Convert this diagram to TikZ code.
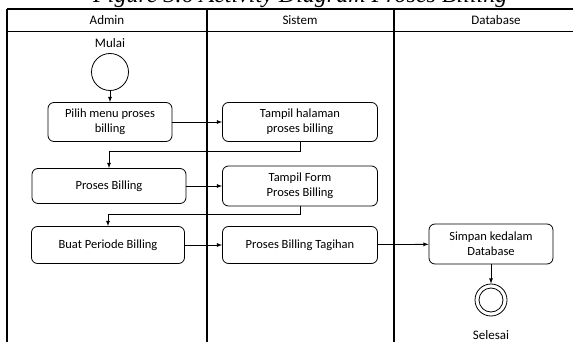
\documentclass[tikz,border=0pt]{standalone}
\usepackage{fontspec}
\setmainfont{Carlito}
\newfontfamily\titlefont{Liberation Serif}
\tikzset{
	act/.style={draw,line width=0.8pt,rounded corners=6pt,align=center,inner sep=2pt,font=\fontsize{12.5}{15}\selectfont},
	flow/.style={-latex,line width=0.8pt},
	lane/.style={line width=1.6pt}
}
\begin{document}
\begin{tikzpicture}[x=1pt,y=-1pt,font=\fontsize{13}{15}\selectfont]
	\useasboundingbox (0,0) rectangle (573,342);
	\clip (0,0) rectangle (573,342);
	\node[anchor=south west,inner sep=0pt,font=\titlefont\itshape\fontsize{24}{28}\selectfont] (title) at (93,8) {Figure 3.6 Activity Diagram Proses Billing};
	
	\draw[lane] (7,9) -- (580,9);
	\draw[lane] (7,31.5) -- (580,31.5);
	\foreach \x in {7,207,394}
	\draw[lane] (\x,9) -- (\x,350);
	\node (hadmin) at (107,20) {Admin};
	\node (hsistem) at (300,20) {Sistem};
	\node (hdb) at (496,20) {Database};
	
	\node (lmulai) at (110,43) {Mulai};
	\node[circle,draw,line width=0.8pt,minimum size=37pt] (mulai) at (110,72) {};
	\node[act,minimum width=124pt,minimum height=39pt] (pilih) at (110,122) {Pilih menu proses\\billing};
	\node[act,minimum width=155pt,minimum height=39pt] (tampil) at (300,122) {Tampil halaman\\proses billing};
	\node[act,minimum width=154pt,minimum height=35pt] (proses) at (109,186) {Proses Billing};
	\node[act,minimum width=155pt,minimum height=40pt] (form) at (300,186) {Tampil Form\\Proses Billing};
	\node[act,minimum width=153pt,minimum height=37pt] (buat) at (108,245) {Buat Periode Billing};
	\node[act,minimum width=155pt,minimum height=37pt] (tagihan) at (300,245) {Proses Billing Tagihan};
	\node[act,minimum width=124pt,minimum height=40pt] (simpan) at (491,244) {Simpan kedalam\\Database};
	\node[circle,draw,line width=0.8pt,minimum size=32pt] (selesai) at (491,300) {};
	\node[circle,draw,line width=0.8pt,minimum size=24pt] (selesaiin) at (selesai) {};
	\node (lselesai) at (491,335) {Selesai};
	
	\draw[flow] (mulai) -- (pilih);
	\draw[flow] (pilih) -- (tampil);
	\draw[flow] (tampil.south) -- ++(0,10) -| (proses.north);
	\draw[flow] (proses) -- (form);
	\draw[flow] (form.south) -- ++(0,8) -| (buat.north);
	\draw[flow] (buat) -- (tagihan);
	\draw[flow] (tagihan) -- (simpan);
	\draw[flow] (simpan) -- (selesai);
\end{tikzpicture}
\end{document}
